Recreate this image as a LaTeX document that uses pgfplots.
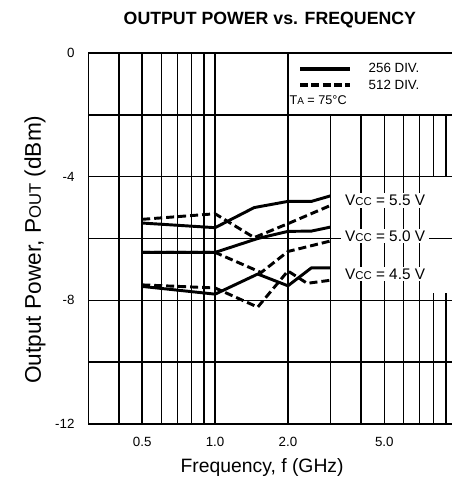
\documentclass[border=0pt]{standalone}
\usepackage{fontspec}
\setmainfont{Liberation Sans}
\usepackage{pgfplots}
\pgfplotsset{compat=1.18}
\newcommand{\sm}[1]{{\fontsize{7.5}{9}\selectfont #1}}
\newcommand{\smv}[1]{{\fontsize{8.5}{10}\selectfont #1}}
\newcommand{\smy}[1]{{\fontsize{12.5}{14}\selectfont #1}}
\begin{document}
\begin{tikzpicture}
\useasboundingbox (0,0) rectangle (338.25pt,363.75pt);
\begin{axis}[
  at={(66.4pt,45.75pt)}, anchor=south west,
  scale only axis, width=276.45pt, height=278.25pt,
  xmode=log, xmin=0.3, xmax=10, ymin=-12, ymax=0,
  xtick={0.5,1,2,5}, xticklabels={0.5,1.0,2.0,5.0},
  minor xtick={0.4,0.6,0.7,0.8,0.9,3,4,6,7,8,9},
  ytick={0,-4,-8,-12}, yticklabels={0,-4,-8,-12},
  minor ytick={-2,-6,-10},
  grid=both,
  major grid style={black, line width=1.15pt},
  minor grid style={black, line width=1.15pt},
  major tick length=0pt, minor tick length=0pt,
  axis line style={line width=1.3pt},
  /pgf/number format/assume math mode=true,
  tick label style={font=\fontsize{10}{12}\selectfont},
  xticklabel style={yshift=-6pt},
  yticklabel style={xshift=-7pt},
  xlabel={Frequency, f (GHz)},
  ylabel={Output Power, P\smy{OUT} (dBm)},
  xlabel style={font=\fontsize{14.5}{17}\selectfont, at={(rel axis cs:0.471,-0.116)}, anchor=center},
  ylabel style={font=\fontsize{17}{20}\selectfont, at={(rel axis cs:-0.145,0.47)}, anchor=center},
  title={\textbf{OUTPUT POWER vs. FREQUENCY}},
  title style={font=\fontsize{13.3}{15}\selectfont, at={(rel axis cs:0.492,1.067)}, anchor=center},
  legend style={draw=none, fill=none, at={(rel axis cs:0.568,0.977)}, anchor=north west,
    font=\fontsize{10}{12}\selectfont, row sep=2pt, inner sep=0pt,
    nodes={inner sep=1pt}},
  legend cell align=left,
  legend image code/.code={\draw[#1] (0pt,0pt) -- (37.5pt,0pt); \path (49pt,0pt);},
]
% legend area
\fill[white] ([xshift=0.6pt,yshift=0.6pt]axis cs:2,-2) rectangle ([yshift=-0.7pt]axis cs:10,0);
% Vcc label area
\fill[white] ([xshift=0.6pt,yshift=-0.6pt]axis cs:3,-4) rectangle (axis cs:10,-7.75);
\draw[black, line width=1.15pt] (axis cs:4,-4) -- (axis cs:4,-7.75);
\draw[black, line width=1.15pt] (axis cs:5,-4) -- (axis cs:5,-7.75);
\draw[black, line width=1.15pt] (axis cs:6,-4) -- (axis cs:6,-7.75);
\draw[black, line width=1.15pt] (axis cs:7,-4) -- (axis cs:7,-7.75);
\draw[black, line width=1.15pt] (axis cs:3,-6) -- (axis cs:10,-6);

\addlegendimage{black, line width=2.9pt}
\addlegendentry{256 DIV.}
\addlegendimage{black, line width=2.9pt, dash pattern=on 6pt off 2.5pt}
\addlegendentry{512 DIV.}

% 256 DIV (solid)
\addplot[black, line width=2.2pt, line join=round, forget plot] coordinates {
 (0.5,-5.5) (1.0,-5.65) (1.45,-5.0) (2.0,-4.8) (2.5,-4.8) (3.0,-4.62)};
\addplot[black, line width=2.2pt, line join=round, forget plot] coordinates {
 (0.5,-6.45) (1.0,-6.45) (1.5,-6.0) (2.0,-5.77) (2.5,-5.76) (3.0,-5.63)};
\addplot[black, line width=2.2pt, line join=round, forget plot] coordinates {
 (0.5,-7.55) (1.0,-7.8) (1.5,-7.15) (2.0,-7.53) (2.5,-6.95) (3.0,-6.95)};
% 512 DIV (dashed)
\addplot[black, line width=2.2pt, dash pattern=on 6pt off 3pt, forget plot] coordinates {
 (0.5,-5.38) (1.0,-5.2) (1.45,-5.97) (2.0,-5.52) (3.0,-4.93)};
\addplot[black, line width=2.2pt, dash pattern=on 6pt off 3pt, forget plot] coordinates {
 (0.5,-6.45) (1.0,-6.45) (1.55,-7.1) (2.0,-6.42) (3.0,-6.08)};
\addplot[black, line width=2.2pt, dash pattern=on 6pt off 3pt, forget plot] coordinates {
 (0.5,-7.5) (1.0,-7.6) (1.5,-8.22) (2.0,-7.05) (2.4,-7.45) (3.0,-7.35)};

\node[anchor=west, font=\fontsize{9.5}{11}\selectfont, inner sep=0pt] at ([xshift=1pt]axis cs:2,-1.52) {T\sm{A} = 75°C};
\node[fill=white, inner xsep=3pt, inner ysep=1.5pt, font=\fontsize{11.5}{13}\selectfont] at (axis cs:5.04,-4.76) {V\smv{CC} = 5.5 V};
\node[fill=white, inner xsep=3pt, inner ysep=1.5pt, font=\fontsize{11.5}{13}\selectfont] at (axis cs:5.04,-5.92) {V\smv{CC} = 5.0 V};
\node[fill=white, inner xsep=3pt, inner ysep=1.5pt, font=\fontsize{11.5}{13}\selectfont] at (axis cs:5.04,-7.15) {V\smv{CC} = 4.5 V};
\end{axis}
\end{tikzpicture}
\end{document}
